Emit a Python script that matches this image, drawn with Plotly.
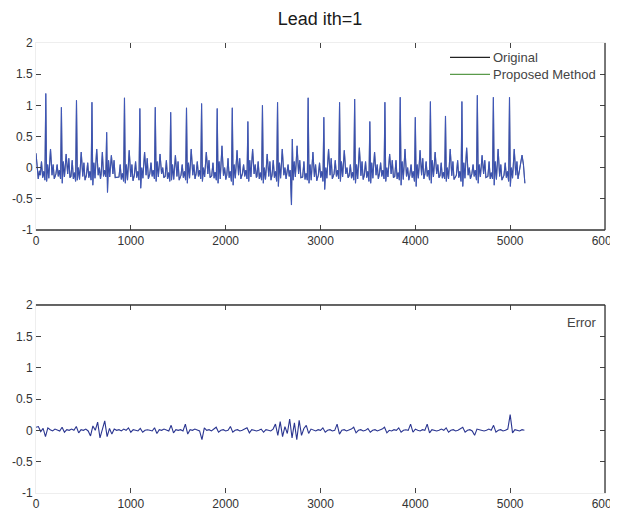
import plotly.graph_objects as go

# ---------------- data ----------------
# R-peak positions (sample index) and per-beat wave levels of the ECG lead
r_pos = [103, 268, 427, 590, 745, 933, 1095, 1258, 1420, 1587, 1746, 1911, 2070, 2234,
         2388, 2547, 2703, 2870, 3035, 3201, 3360, 3520, 3679, 3841, 4000, 4159, 4318,
         4491, 4654, 4823, 4993]
r_amp = [1.19, 0.97, 1.08, 1.05, 0.57, 1.12, 0.95, 0.97, 0.89, 0.96, 1.03, 0.95, 0.96, 0.74,
         1.00, 1.05, 0.46, 1.12, 0.81, 1.05, 1.10, 0.74, 1.05, 1.13, 0.81, 1.06, 0.83,
         1.06, 1.16, 1.13, 1.13]
q_amp = [-0.20, -0.18, -0.22, -0.20, -0.15, -0.22, -0.20, -0.18, -0.22, -0.20, -0.18, -0.20, -0.22, -0.18,
         -0.20, -0.22, -0.60, -0.20, -0.22, -0.18, -0.20, -0.22, -0.18, -0.20, -0.22, -0.20, -0.18,
         -0.22, -0.20, -0.18, -0.22]
s_amp = [-0.22, -0.25, -0.20, -0.28, -0.40, -0.25, -0.33, -0.22, -0.20, -0.25, -0.22, -0.25, -0.28, -0.22,
         -0.25, -0.30, -0.20, -0.25, -0.35, -0.22, -0.25, -0.25, -0.22, -0.28, -0.30, -0.25, -0.22,
         -0.30, -0.25, -0.28, -0.30]
j_amp = [0.05, 0.10, 0.00, 0.08, 0.12, 0.05, 0.00, 0.10, 0.05, 0.08, 0.00, 0.10, 0.05, 0.12,
         0.00, 0.08, 0.10, 0.05, 0.00, 0.10, 0.05, 0.08, 0.00, 0.10, 0.05, 0.12, 0.00,
         0.08, 0.05, 0.10, 0.00]
t_amp = [0.30, 0.22, 0.25, 0.30, 0.20, 0.28, 0.25, 0.22, 0.20, 0.30, 0.25, 0.35, 0.28, 0.30,
         0.22, 0.30, 0.35, 0.25, 0.30, 0.28, 0.32, 0.25, 0.22, 0.30, 0.28, 0.25, 0.30,
         0.32, 0.20, 0.30, 0.30]
u_amp = [0.05, 0.15, 0.08, 0.00, 0.12, 0.05, 0.15, 0.00, 0.10, 0.05, 0.12, 0.00, 0.15, 0.05,
         0.10, 0.00, 0.12, 0.05, 0.15, 0.00, 0.10, 0.05, 0.12, 0.00, 0.15, 0.05, 0.10,
         0.00, 0.12, 0.05, 0.10]
p_amp = [0.10, 0.05, 0.12, 0.08, 0.25, 0.05, 0.10, 0.08, 0.12, 0.05, 0.10, 0.08, 0.15, 0.05,
         0.10, 0.12, 0.05, 0.10, 0.08, 0.12, 0.05, 0.10, 0.08, 0.12, 0.05, 0.10, 0.08,
         0.12, 0.05, 0.10, 0.08]
b_lvl = [-0.12, -0.10, -0.14, -0.12, -0.10, -0.15, -0.12, -0.10, -0.14, -0.12, -0.10, -0.13, -0.12, -0.10,
         -0.14, -0.12, -0.10, -0.15, -0.12, -0.10, -0.13, -0.12, -0.10, -0.14, -0.12, -0.10, -0.13,
         -0.12, -0.10, -0.14, -0.12]
# start and end of the record
head_x = [0, 12, 24, 36]
head_y = [0.23, 0.05, -0.18, -0.05]
tail_x = [5095, 5125, 5140, 5155]
tail_y = [-0.05, 0.20, 0.05, -0.25]

# reconstruction error, one reading every 25 samples (lower panel)
err_step = 25
err_y = [
    0.05, 0.06, -0.02, 0.03, -0.10, 0.04, 0.01, -0.01, 0.02, 0.00, -0.01, 0.05, -0.03, 0.01, 0.00, 0.02, 0.00, 0.06, -0.04, 0.01,
    0.00, 0.02, -0.01, -0.09, 0.07, 0.00, 0.13, -0.12, 0.02, 0.15, -0.10, 0.03, -0.06, 0.02, 0.00, 0.01, -0.01, 0.02, 0.00, 0.04,
    -0.03, 0.01, 0.00, -0.01, 0.03, -0.03, 0.00, 0.01, 0.00, -0.01, 0.04, -0.05, 0.01, 0.00, 0.02, 0.00, -0.01, 0.08, -0.04, 0.01,
    0.00, 0.01, -0.01, 0.10, -0.06, 0.01, 0.00, 0.02, 0.00, -0.01, -0.15, 0.04, 0.00, 0.01, -0.01, 0.02, 0.05, -0.03, 0.00, 0.01,
    -0.01, 0.00, 0.06, -0.03, 0.00, 0.01, -0.01, 0.00, 0.02, 0.04, -0.04, 0.01, 0.00, -0.01, 0.00, 0.02, -0.03, 0.01, 0.00, -0.01,
    0.02, 0.10, -0.08, 0.14, -0.10, 0.06, -0.05, 0.18, -0.12, 0.12, -0.15, 0.16, -0.08, 0.03, 0.08, -0.05, 0.02, 0.00, -0.01, 0.01,
    0.00, 0.04, -0.03, 0.00, 0.01, -0.01, 0.00, 0.10, -0.06, 0.00, 0.01, -0.01, 0.00, 0.02, 0.05, -0.04, 0.00, 0.01, -0.01, 0.00,
    0.03, -0.03, 0.00, 0.01, -0.01, 0.00, 0.02, 0.05, -0.04, 0.00, -0.01, 0.01, 0.00, 0.04, -0.03, 0.00, 0.01, 0.00, 0.10, -0.03,
    0.02, 0.00, -0.01, 0.01, 0.00, 0.10, -0.04, 0.01, 0.00, -0.01, 0.00, 0.02, 0.00, 0.04, -0.03, 0.00, 0.01, -0.01, 0.00, 0.02,
    0.05, -0.03, 0.00, 0.01, -0.01, -0.08, 0.02, 0.01, 0.00, -0.01, 0.00, 0.02, 0.00, 0.08, -0.03, 0.00, 0.01, -0.01, 0.00, 0.02,
    0.25, -0.04, 0.01, 0.00, -0.01, 0.01, 0.00,
]
err_x = [i * err_step for i in range(len(err_y))]

x_ticks = [0, 1000, 2000, 3000, 4000, 5000, 6000]
x_tick_text = ["0", "1000", "2000", "3000", "4000", "5000", "6000"]
y_ticks = [-1, -0.5, 0, 0.5, 1, 1.5, 2]
y_tick_text = ["-1", "-0.5", "0", "0.5", "1", "1.5", "2"]

title_text = "Lead ith=1"
legend_names = ["Original", "Proposed Method", "Error"]
legend_colors = ["#222222", "#5a9a4a"]

# ---------------- build the lead trace from the beat readings ----------------
sig_x = list(head_x)
sig_y = list(head_y)
for i, r in enumerate(r_pos):
    b = b_lvl[i]
    sig_x += [r - 58, r - 45, r - 33, r - 22, r - 9, r, r + 9, r + 20, r + 32,
              r + 50, r + 66, r + 78, r + 90]
    sig_y += [b, p_amp[i], b - 0.04, b + 0.06, q_amp[i], r_amp[i], s_amp[i], j_amp[i],
              b - 0.05, t_amp[i], b, u_amp[i], b - 0.06]
sig_x += tail_x
sig_y += tail_y

fig = go.Figure()

# lead signal: original (navy) and reconstruction (blue) drawn over each other
fig.add_trace(go.Scatter(x=sig_x, y=sig_y, mode="lines", name=legend_names[0], showlegend=False,
                         line=dict(color="#25306e", width=1.1), xaxis="x", yaxis="y"))
fig.add_trace(go.Scatter(x=sig_x, y=sig_y, mode="lines", name=legend_names[1], showlegend=False,
                         opacity=0.75, line=dict(color="#4a68d6", width=0.9), xaxis="x", yaxis="y"))
# error panel
fig.add_trace(go.Scatter(x=err_x, y=err_y, mode="lines", name=legend_names[2], showlegend=False,
                         line=dict(color="#2a3590", width=1.1), xaxis="x2", yaxis="y2"))

# geometry (figure pixels; the page adds an 8px body margin)
W, H = 614, 507
L, R, T, B = 28, 17, 35, 22
ph = H - T - B
top_dom = [(H - B - 222) / ph, 1]
bot_dom = [0, (H - B - 297) / ph]

font_family = "Liberation Sans, Arial, sans-serif"
axis_common = dict(showgrid=False, zeroline=False, showline=True, mirror="ticks",
                   linecolor="#eeeeee", linewidth=1, ticks="inside", ticklen=5,
                   tickcolor="#444444", tickwidth=1, automargin=False,
                   ticklabeloverflow="allow",
                   tickfont=dict(family=font_family, size=12, color="#333333"))

pw = W - L - R
def px_x(v):
    return (v - L) / pw
def px_y(v):
    return (H - B - v) / ph

# legend: line samples + a two-line label (top panel), label only (bottom panel)
leg_top = 41          # figure px, top of the legend text block
leg_font = 13
leg_line_h = leg_font * 1.3
shapes = []
for k in range(2):
    yk = leg_top + leg_line_h * (k + 0.5)
    shapes.append(dict(type="line", xref="paper", yref="paper", x0=px_x(442), x1=px_x(482),
                       y0=px_y(yk), y1=px_y(yk), line=dict(color=legend_colors[k], width=1.2)))
annotations = [
    dict(text="<br>".join(legend_names[:2]), xref="paper", yref="paper", x=px_x(484),
         y=px_y(leg_top), xanchor="left", yanchor="top", align="left", showarrow=False,
         borderpad=0, font=dict(family=font_family, size=leg_font, color="#444444")),
    dict(text=legend_names[2], xref="paper", yref="paper", x=px_x(557),
         y=px_y(314), xanchor="left", yanchor="middle", showarrow=False,
         font=dict(family=font_family, size=13, color="#444444")),
]

# darker frame lines visible in the figure
frame = dict(color="#333333", width=1.3)
shapes += [
    dict(type="line", xref="x domain", yref="y domain", x0=1, x1=1, y0=0, y1=1, line=frame),
    dict(type="line", xref="x domain", yref="y domain", x0=0, x1=1, y0=0, y1=0, line=frame),
    dict(type="line", xref="x2 domain", yref="y2 domain", x0=1, x1=1, y0=0, y1=1, line=frame),
    dict(type="line", xref="x2 domain", yref="y2 domain", x0=0, x1=1, y0=1, y1=1, line=frame),
]

fig.update_layout(
    width=W, height=H,
    margin=dict(l=L, r=R, t=T, b=B),
    paper_bgcolor="white", plot_bgcolor="white",
    showlegend=False,
    font=dict(family=font_family, color="#333333"),
    title=dict(text=title_text, x=312 / W, xanchor="center",
               y=1 - 11 / H, yanchor="middle",
               font=dict(family=font_family, size=18, color="#1a1a1a")),
    xaxis=dict(domain=[0, 1], range=[0, 6000], tickvals=x_ticks, ticktext=x_tick_text,
               anchor="y", **axis_common),
    yaxis=dict(domain=top_dom, range=[-1, 2], tickvals=y_ticks,
               ticktext=y_tick_text, anchor="x", **axis_common),
    xaxis2=dict(domain=[0, 1], range=[0, 6000], tickvals=x_ticks, ticktext=x_tick_text,
                anchor="y2", **axis_common),
    yaxis2=dict(domain=bot_dom, range=[-1, 2], tickvals=y_ticks,
                ticktext=y_tick_text, anchor="x2", **axis_common),
    shapes=shapes,
    annotations=annotations,
)

fig.write_html("out.html")
